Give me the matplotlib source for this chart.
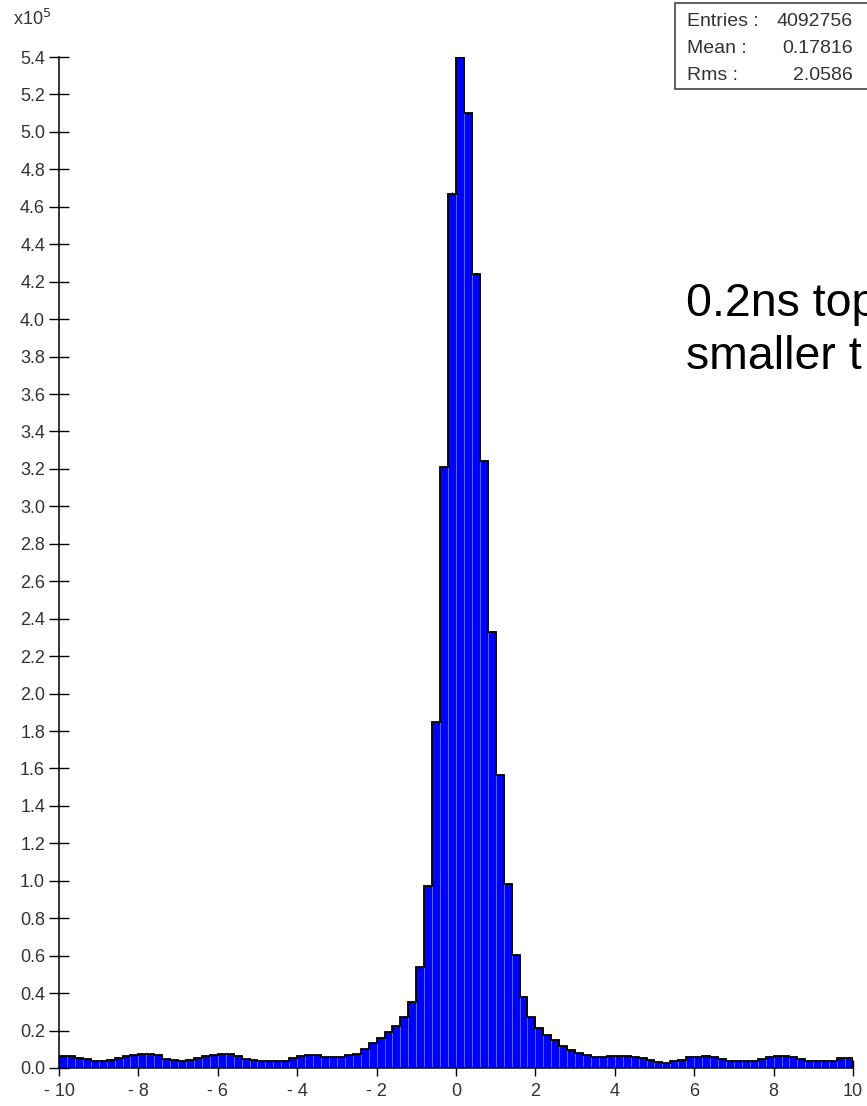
import numpy as np
import matplotlib
matplotlib.use("Agg")
import matplotlib.pyplot as plt
from matplotlib.patches import Rectangle

plt.rcParams["font.family"] = ["Liberation Sans", "DejaVu Sans"]

# Histogram of time differences: 100 bins of 0.2 ns from -10 to 10, counts in units of 1e5
bin_lo, bin_hi, bin_w = -10.0, 10.0, 0.2
counts_e5 = [
    0.065, 0.065, 0.055, 0.048, 0.038, 0.038, 0.045, 0.055, 0.062, 0.068,
    0.075, 0.075, 0.070, 0.050, 0.045, 0.035, 0.042, 0.052, 0.062, 0.068,
    0.073, 0.073, 0.065, 0.050, 0.042, 0.035, 0.035, 0.035, 0.035, 0.055,
    0.065, 0.070, 0.068, 0.060, 0.058,
    0.060, 0.068, 0.075, 0.103, 0.132, 0.162, 0.194, 0.225, 0.271, 0.355,
    0.538, 0.973, 1.849, 3.210, 4.670, 5.400, 5.100, 4.240, 3.240, 2.330,
    1.567, 0.984, 0.604, 0.381, 0.271, 0.216, 0.176, 0.148, 0.118, 0.094,
    0.080, 0.068, 0.059, 0.059, 0.066, 0.066, 0.066, 0.060, 0.052, 0.041,
    0.030, 0.028, 0.036, 0.045, 0.057, 0.057, 0.066, 0.057, 0.046, 0.036,
    0.036, 0.036, 0.036, 0.046, 0.059, 0.066, 0.066, 0.057, 0.046, 0.036,
    0.036, 0.036, 0.036, 0.052, 0.055,
]
stats_labels = ["Entries :", "Mean :", "Rms :"]
stats_values = ["4092756", "0.17816", "2.0586"]
note_lines = ["0.2ns top", "smaller t"]
xticks = [-10, -8, -6, -4, -2, 0, 2, 4, 6, 8, 10]
yticks = [round(0.2 * i, 1) for i in range(28)]

counts = np.array(counts_e5)
edges = np.arange(bin_lo, bin_hi + bin_w / 2, bin_w)
centers = 0.5 * (edges[:-1] + edges[1:])

W, H = 867, 1106
fig = plt.figure(figsize=(W / 100, H / 100), dpi=100)
ax = fig.add_axes([59 / W, (H - 1068) / H, (853 - 59) / W, (1068 - 57) / H])

# filled bins with light separators, black step outline and small error bars
ax.bar(edges[:-1], counts, width=bin_w, align="edge", color="#0000ff",
       edgecolor="#5a66ff", linewidth=0.6, zorder=2)
ax.stairs(counts, edges, color="black", linewidth=1.3, zorder=3)
ax.errorbar(centers, counts, yerr=np.sqrt(counts * 1e5) / 1e5, fmt="none",
            ecolor="black", elinewidth=0.8, zorder=4)

ax.set_xlim(bin_lo, bin_hi)
ax.set_ylim(0, 5.4)
ax.set_xticks(xticks)
ax.set_xticklabels([str(t).replace("-", "- ") for t in xticks])
ax.set_yticks(yticks)
ax.set_yticklabels([f"{t:.1f}" for t in yticks])

for s in ("top", "right"):
    ax.spines[s].set_visible(False)
for s in ("left", "bottom"):
    ax.spines[s].set_linewidth(1.1)
    ax.spines[s].set_zorder(5)
ax.tick_params(axis="y", direction="inout", length=14, width=1.0,
               labelsize=13, labelcolor="#333333", pad=3)
ax.tick_params(axis="x", direction="inout", length=12, width=1.0,
               labelsize=13, labelcolor="#333333", pad=5)
for t in ax.xaxis.get_major_ticks() + ax.yaxis.get_major_ticks():
    t.tick1line.set_zorder(6)

# axis multiplier label
fig.text(13 / W, 1 - 19 / H, r"x10$^5$", fontsize=13, color="#333333",
         va="center", ha="left")

# statistics box
fig.add_artist(Rectangle((675 / W, 1 - 89 / H), (W + 10 - 675) / W, 86 / H,
                         transform=fig.transFigure, facecolor="white",
                         edgecolor="#444444", linewidth=1.2, clip_on=False))
for i, (lab, val) in enumerate(zip(stats_labels, stats_values)):
    y = 1 - (21 + 27.5 * i) / H
    fig.text(687 / W, y, lab, fontsize=14, color="#333333", va="center", ha="left")
    fig.text(853 / W, y, val, fontsize=14, color="#333333", va="center", ha="right")

# annotation
for i, line in enumerate(note_lines):
    fig.text(686 / W, 1 - (316 + 53 * i) / H, line, fontsize=33.5,
             color="black", va="baseline", ha="left")

fig.savefig("out.png", dpi=100)
